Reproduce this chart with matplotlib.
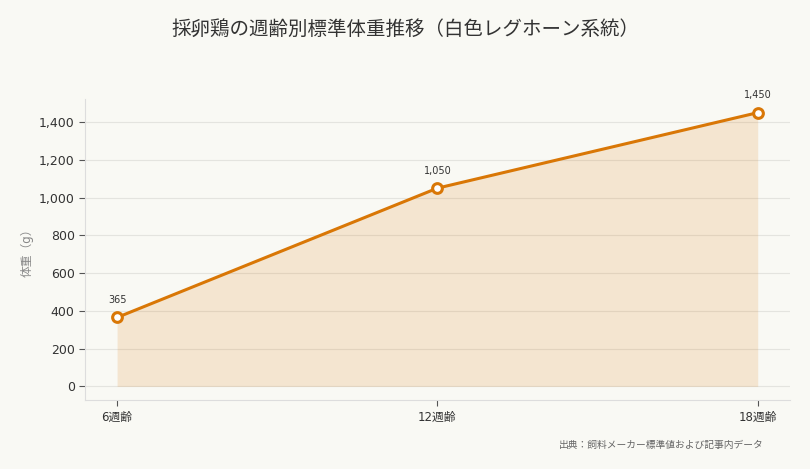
import matplotlib.pyplot as plt

plt.rcParams['font.family'] = ['DejaVu Sans', 'Noto Sans CJK JP']

ages = ['6週齢', '12週齢', '18週齢']
weights = [365, 1050, 1450]

bg = '#f9f9f4'
orange = '#d97706'

fig = plt.figure(figsize=(8.1, 4.69), dpi=100, facecolor=bg)
ax = fig.add_axes([0.105, 0.147, 0.870, 0.642], facecolor=bg)

x = list(range(len(ages)))
ax.fill_between(x, weights, 0, color=orange, alpha=0.15, linewidth=0)
ax.plot(x, weights, color=orange, linewidth=2.2, marker='o', markersize=7,
        markerfacecolor='white', markeredgecolor=orange, markeredgewidth=2.2, zorder=3)

for xi, w in zip(x, weights):
    ax.annotate(f'{w:,}', (xi, w), xytext=(0, 9), textcoords='offset points',
                ha='center', va='bottom', fontsize=7, color='#333333')

ax.set_xticks(x)
ax.set_xticklabels(ages, fontsize=8.5, color='#333333')
ax.set_xlim(-0.1, 2.1)
ax.set_ylim(-72.5, 1522.5)
ax.set_yticks(range(0, 1401, 200))
ax.yaxis.set_major_formatter(plt.FuncFormatter(lambda v, p: f'{int(v):,}'))
ax.tick_params(axis='y', labelsize=9, colors='#333333')
ax.tick_params(axis='both', color='#555555', length=4)
ax.set_ylabel('体重（g）', fontsize=8.5, color='#888888', labelpad=4)

ax.grid(axis='y', color='#e4e4df', linewidth=0.8)
ax.set_axisbelow(True)
for s in ['top', 'right']:
    ax.spines[s].set_visible(False)
for s in ['left', 'bottom']:
    ax.spines[s].set_color('#dddddd')

fig.text(0.5, 0.938, '採卵鶏の週齢別標準体重推移（白色レグホーン系統）',
         ha='center', va='center', fontsize=14, color='#333333',
         family=['Noto Sans CJK JP', 'DejaVu Sans'])
fig.text(0.943, 0.052, '出典：飼料メーカー標準値および記事内データ',
         ha='right', va='center', fontsize=7, color='#666666',
         family=['Noto Sans CJK JP', 'DejaVu Sans'])

fig.savefig('out.png', dpi=100, facecolor=bg)
